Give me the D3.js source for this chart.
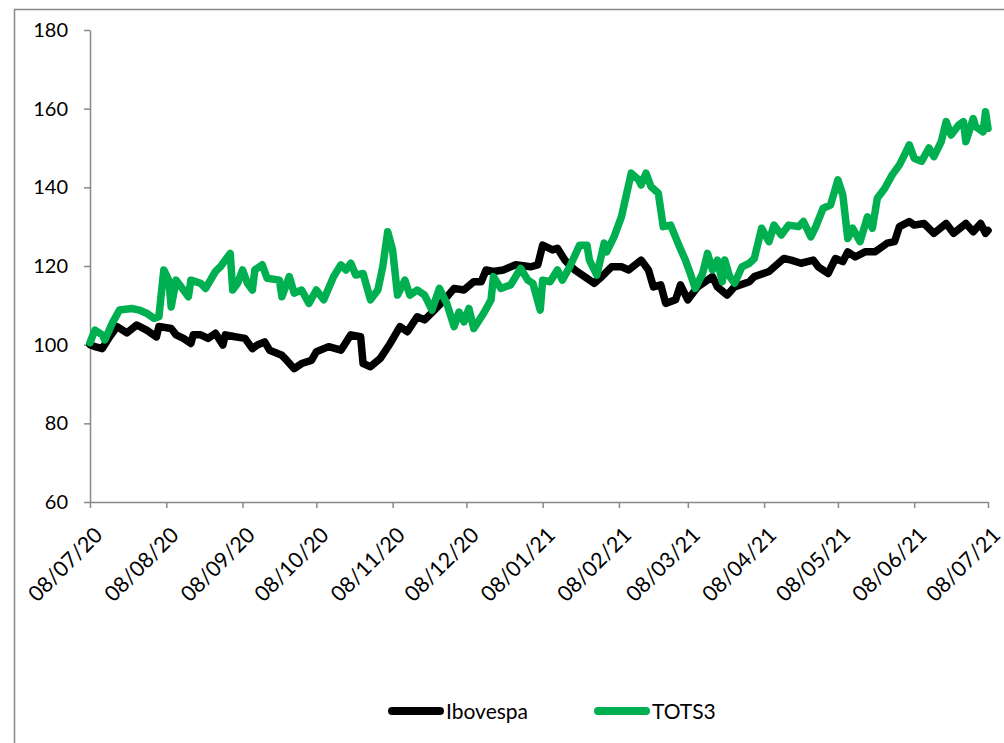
<!DOCTYPE html>
<html><head><meta charset="utf-8">
<script src="https://cdn.jsdelivr.net/npm/d3@7"></script>
<style>
body{margin:0;background:#fff}
svg text{font-family:Lato,"Open Sans",sans-serif;fill:#000}
</style>
</head><body>
<svg id="chart" width="1004" height="743"></svg>
<script>
const seriesNames = ["Ibovespa", "TOTS3"];
const seriesColors = ["#000000", "#00B050"];

const ibovDates = ["2020-07-08","2020-07-10","2020-07-13","2020-07-16","2020-07-19","2020-07-23","2020-07-27","2020-07-31","2020-08-04","2020-08-05","2020-08-10","2020-08-12","2020-08-15","2020-08-18","2020-08-19","2020-08-22","2020-08-25","2020-08-28","2020-08-31","2020-09-01","2020-09-05","2020-09-09","2020-09-12","2020-09-14","2020-09-17","2020-09-19","2020-09-24","2020-09-26","2020-09-29","2020-10-02","2020-10-06","2020-10-08","2020-10-13","2020-10-18","2020-10-22","2020-10-26","2020-10-27","2020-10-30","2020-11-03","2020-11-07","2020-11-11","2020-11-14","2020-11-18","2020-11-21","2020-11-25","2020-11-29","2020-12-03","2020-12-07","2020-12-11","2020-12-14","2020-12-16","2020-12-19","2020-12-23","2020-12-28","2021-01-03","2021-01-06","2021-01-08","2021-01-12","2021-01-14","2021-01-17","2021-01-21","2021-01-25","2021-01-29","2021-02-01","2021-02-05","2021-02-09","2021-02-12","2021-02-17","2021-02-20","2021-02-22","2021-02-25","2021-02-27","2021-03-03","2021-03-05","2021-03-08","2021-03-12","2021-03-18","2021-03-20","2021-03-24","2021-03-27","2021-04-02","2021-04-04","2021-04-10","2021-04-16","2021-04-19","2021-04-23","2021-04-28","2021-04-30","2021-05-04","2021-05-07","2021-05-10","2021-05-12","2021-05-15","2021-05-19","2021-05-23","2021-05-26","2021-05-28","2021-05-31","2021-06-02","2021-06-06","2021-06-08","2021-06-12","2021-06-16","2021-06-21","2021-06-24","2021-06-29","2021-07-02","2021-07-05","2021-07-07","2021-07-08"];
const ibovValues = [100,99.5,99,102,104.6,103,105,103.7,102,104.6,104.1,102.5,101.6,100.3,102.5,102.5,101.6,102.9,99.9,102.5,102,101.6,99,99.9,100.7,98.6,97.3,96,93.9,95.2,96,98.2,99.5,98.6,102.5,102,95.2,94.4,96.5,100.3,104.6,103.3,107.1,106.3,108.8,111.4,114.3,113.9,116,116,119,118.6,119,120.3,119.8,120.3,125.3,124.1,124.5,121.5,119,117.3,115.6,117.3,119.8,119.8,119,121.5,119,114.7,115.2,110.5,111.4,115.2,111.4,114.7,117.3,114.7,112.6,114.7,116,117.3,118.6,121.9,121.5,120.7,121.5,119.8,118.1,121.9,121.1,123.6,122.3,123.6,123.6,124.9,125.8,126.2,130,131.3,130.4,130.8,128.3,130.8,128.3,130.8,128.7,130.8,128.3,129];

const totsDates = ["2020-07-08","2020-07-10","2020-07-13","2020-07-14","2020-07-17","2020-07-20","2020-07-25","2020-07-28","2020-07-31","2020-08-03","2020-08-05","2020-08-07","2020-08-09","2020-08-10","2020-08-12","2020-08-14","2020-08-17","2020-08-18","2020-08-22","2020-08-24","2020-08-28","2020-08-30","2020-09-03","2020-09-04","2020-09-06","2020-09-08","2020-09-10","2020-09-12","2020-09-13","2020-09-16","2020-09-18","2020-09-23","2020-09-24","2020-09-27","2020-09-29","2020-10-02","2020-10-05","2020-10-08","2020-10-11","2020-10-15","2020-10-18","2020-10-20","2020-10-22","2020-10-24","2020-10-27","2020-10-30","2020-11-02","2020-11-04","2020-11-06","2020-11-08","2020-11-10","2020-11-13","2020-11-15","2020-11-18","2020-11-21","2020-11-24","2020-11-27","2020-11-30","2020-12-03","2020-12-05","2020-12-07","2020-12-09","2020-12-11","2020-12-15","2020-12-18","2020-12-19","2020-12-22","2020-12-26","2020-12-30","2021-01-02","2021-01-04","2021-01-07","2021-01-08","2021-01-11","2021-01-14","2021-01-16","2021-01-19","2021-01-23","2021-01-26","2021-01-27","2021-01-30","2021-02-02","2021-02-03","2021-02-06","2021-02-09","2021-02-13","2021-02-16","2021-02-17","2021-02-19","2021-02-21","2021-02-24","2021-02-26","2021-03-01","2021-03-04","2021-03-07","2021-03-09","2021-03-11","2021-03-14","2021-03-16","2021-03-18","2021-03-20","2021-03-22","2021-03-23","2021-03-25","2021-03-27","2021-03-30","2021-04-02","2021-04-04","2021-04-07","2021-04-10","2021-04-12","2021-04-15","2021-04-18","2021-04-22","2021-04-24","2021-04-27","2021-04-29","2021-05-02","2021-05-05","2021-05-08","2021-05-10","2021-05-12","2021-05-14","2021-05-17","2021-05-20","2021-05-22","2021-05-24","2021-05-27","2021-05-30","2021-06-02","2021-06-04","2021-06-06","2021-06-08","2021-06-11","2021-06-14","2021-06-16","2021-06-19","2021-06-21","2021-06-23","2021-06-26","2021-06-28","2021-06-29","2021-07-02","2021-07-03","2021-07-06","2021-07-07","2021-07-08"];
const totsValues = [100.5,103.7,102.5,101.2,105.4,108.8,109.2,108.8,108,106.7,107.1,119,116.4,109.6,116.4,114.7,112.2,116.4,115.6,114.3,118.6,119.8,123.2,113.9,115.6,119,115.6,113.9,119,120.3,116.9,116.4,112.2,117.3,113.1,113.9,110.5,113.9,111.4,117.3,120.3,119,120.7,117.7,118.1,111.4,113.9,119.8,128.7,124.1,112.6,116.4,112.6,113.9,112.6,108.8,114.3,110.5,104.6,108.3,105.8,109.2,104.1,108,111.4,117.3,114.3,115.2,119.4,116.4,115.6,108.8,116.4,116,119,116.4,119.8,125.3,125.3,121.5,117.7,125.8,123.6,127.4,132.5,143.6,141.9,140.6,143.6,140.2,138.5,130,130.4,125.8,121.5,118.1,114.3,118.1,123.2,119,121.5,116,121.5,117.3,115.6,119.8,120.7,121.9,129.6,126.2,130.4,127.9,130.4,130,131.3,127.4,130,134.7,135.5,141.9,138,127,129.6,126.2,132.5,129.6,137.2,139.7,143.1,145.7,148.2,150.8,147.4,146.6,150,147.8,151.6,156.7,153.3,155.8,156.7,151.6,157.5,155.4,154.1,159.2,155];

const xTickDates = ["2020-07-08","2020-08-08","2020-09-08","2020-10-08","2020-11-08","2020-12-08","2021-01-08","2021-02-08","2021-03-08","2021-04-08","2021-05-08","2021-06-08","2021-07-08"];
const xTickLabels = ["08/07/20","08/08/20","08/09/20","08/10/20","08/11/20","08/12/20","08/01/21","08/02/21","08/03/21","08/04/21","08/05/21","08/06/21","08/07/21"];
const yTicks = [60, 80, 100, 120, 140, 160, 180];

const parse = d3.timeParse("%Y-%m-%d");
const svg = d3.select("#chart");
const axisColor = "#898989";

// outer frame
svg.append("rect").attr("x", 14.5).attr("y", 9.5).attr("width", 1100).attr("height", 900)
  .attr("fill", "none").attr("stroke", axisColor).attr("stroke-width", 1.5);

const x = d3.scaleTime().domain([parse(xTickDates[0]), parse(xTickDates[xTickDates.length - 1])]).range([90, 988]);
const y = d3.scaleLinear().domain([60, 180]).range([502, 30]);

// y axis
const yAxis = d3.axisLeft(y).tickValues(yTicks).tickSize(6).tickSizeOuter(0).tickPadding(16).tickFormat(d3.format("d"));
const gy = svg.append("g").attr("transform", "translate(90,0)").call(yAxis);
gy.selectAll("path, line").attr("stroke", axisColor).attr("stroke-width", 1.5);
gy.selectAll("text").style("font-size", "20px").attr("fill", "#000");

// x axis
const xAxis = d3.axisBottom(x).tickValues(xTickDates.map(parse)).tickSize(6).tickSizeOuter(0)
  .tickFormat((d, i) => xTickLabels[i]);
const gx = svg.append("g").attr("transform", "translate(0,502)").call(xAxis);
gx.selectAll("path, line").attr("stroke", axisColor).attr("stroke-width", 1.5);
gx.selectAll("text").style("font-size", "21.5px").attr("fill", "#000")
  .attr("text-anchor", "end").attr("dy", "0.35em")
  .attr("transform", "translate(8,29) rotate(-45)").attr("y", 0).attr("x", 0);

// lines
const line = d3.line().x(d => x(d.date)).y(d => y(d.value)).curve(d3.curveLinear);
const series = [
  ibovDates.map((d, i) => ({date: parse(d), value: ibovValues[i]})),
  totsDates.map((d, i) => ({date: parse(d), value: totsValues[i]}))
];
series.forEach((s, i) => {
  svg.append("path").datum(s).attr("d", line).attr("fill", "none")
    .attr("stroke", seriesColors[i]).attr("stroke-width", 7.5)
    .attr("stroke-linejoin", "round").attr("stroke-linecap", "round");
});

// legend
const legendX = [392, 598];
seriesNames.forEach((n, i) => {
  svg.append("line").attr("x1", legendX[i]).attr("x2", legendX[i] + 48).attr("y1", 711).attr("y2", 711)
    .attr("stroke", seriesColors[i]).attr("stroke-width", 8).attr("stroke-linecap", "round");
  svg.append("text").attr("x", legendX[i] + 54).attr("y", 719).style("font-size", "21px").text(n);
});
</script>
</body></html>
